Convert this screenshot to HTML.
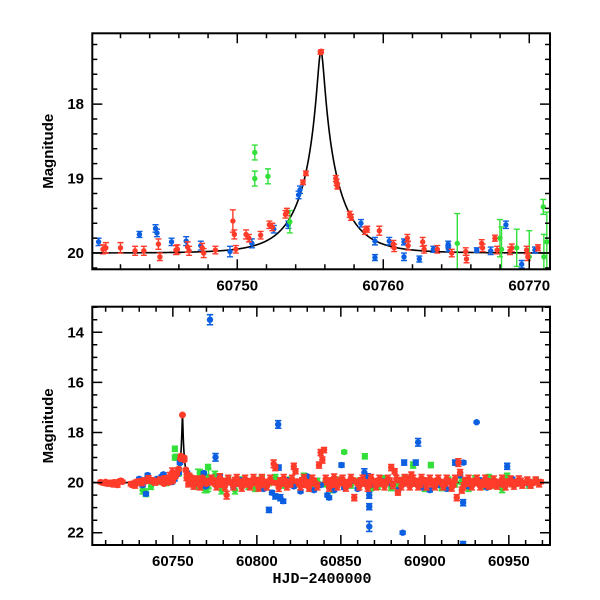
<!DOCTYPE html>
<html><head><meta charset="utf-8"><style>
html,body{margin:0;padding:0;background:#fff;}
svg{display:block;font-family:"Liberation Sans",sans-serif;}
</style></head><body>
<svg id="chart" width="600" height="600" viewBox="0 0 600 600" xmlns="http://www.w3.org/2000/svg">
<defs>
<clipPath id="clipTop"><rect x="92.3" y="33.3" width="457.7" height="236"/></clipPath>
<clipPath id="clipBot"><rect x="92.3" y="306.7" width="457.7" height="238.3"/></clipPath>
</defs>
<g id="top"></g>
<g id="bot"></g>
</svg>
<script>
// ---- data: [HJD-2400000, magnitude, error] ----
const topBlue = [[60740.5,19.85,0.05],[60743.3,19.75,0.04],[60744.4,19.67,0.05],[60744.5,19.73,0.05],[60745.5,19.85,0.05],[60746.5,19.84,0.06],[60747.5,19.9,0.06],[60749.5,19.98,0.07],[60751.0,19.87,0.06],[60752.5,19.68,0.05],[60753.5,19.62,0.05],[60754.2,19.22,0.05],[60754.3,19.15,0.05],[60758.47,19.6,0.05],[60759.43,19.84,0.05],[60759.43,20.06,0.04],[60760.41,19.84,0.05],[60761.42,19.85,0.04],[60761.42,20.05,0.05],[60762.47,20.08,0.04],[60763.43,19.95,0.04],[60764.45,19.88,0.04],[60764.45,19.94,0.04],[60766.4,19.96,0.03],[60767.36,19.97,0.05],[60768.4,19.62,0.05],[60769.48,20.15,0.05],[60770.39,19.96,0.04]];
const topRed = [[60740.8,19.95,0.06],[60741.0,19.93,0.07],[60742.0,19.93,0.07],[60743.0,19.97,0.06],[60743.6,19.97,0.06],[60744.6,19.88,0.07],[60744.7,20.05,0.05],[60745.8,19.96,0.06],[60745.9,19.95,0.06],[60746.6,19.92,0.07],[60746.7,19.97,0.06],[60747.6,19.93,0.06],[60747.7,20.0,0.06],[60748.5,19.96,0.05],[60749.7,19.57,0.15],[60749.8,19.75,0.06],[60749.9,19.95,0.05],[60750.6,19.75,0.06],[60750.8,19.8,0.05],[60751.6,19.76,0.05],[60752.2,19.62,0.05],[60752.4,19.65,0.05],[60753.3,19.48,0.05],[60753.4,19.45,0.05],[60754.5,19.05,0.03],[60754.7,18.93,0.03],[60755.7,17.31,0.02],[60755.75,17.29,0.02],[60756.75,19.0,0.04],[60756.8,19.05,0.04],[60756.85,19.1,0.04],[60757.7,19.48,0.04],[60757.8,19.52,0.04],[60758.75,19.7,0.05],[60758.9,19.68,0.04],[60759.73,19.7,0.06],[60760.69,19.88,0.05],[60760.75,19.93,0.05],[60761.65,19.8,0.05],[60761.7,19.9,0.06],[60762.7,19.85,0.06],[60762.8,19.95,0.05],[60763.7,19.95,0.05],[60764.69,20.0,0.05],[60765.65,19.98,0.05],[60765.7,20.08,0.05],[60766.74,19.87,0.05],[60766.8,19.93,0.05],[60767.65,19.8,0.04],[60767.8,19.96,0.05],[60768.68,19.97,0.05],[60768.8,19.93,0.05],[60769.82,19.96,0.05],[60769.9,20.05,0.05],[60770.6,19.93,0.04]];
const topGreen = [[60751.2,18.65,0.1],[60751.2,19.0,0.1],[60752.1,18.97,0.1],[60753.6,19.58,0.15],[60765.07,19.87,0.4],[60767.99,19.8,0.25],[60768.1,19.95,0.3],[60769.14,19.93,0.25],[60770.0,20.05,0.35],[60770.96,19.38,0.1],[60771.0,20.05,0.3],[60771.2,19.85,0.4]];
const botRed = [[60707,19.98,0.06],[60708,20.0,0.06],[60709,20.02,0.07],[60710,19.97,0.06],[60711,20.05,0.07],[60712,20.03,0.06],[60713,20.0,0.06],[60714,20.08,0.07],[60715,19.98,0.06],[60716,20.02,0.06],[60717,20.1,0.08],[60718,19.95,0.06],[60719,19.92,0.06],[60720,19.97,0.06],[60725,20.05,0.08],[60726,20.1,0.08],[60727,20.02,0.07],[60728,19.98,0.07],[60729,19.95,0.07],[60730,20.0,0.08],[60731,19.93,0.07],[60732,19.97,0.07],[60733,19.9,0.07],[60734,19.95,0.07],[60735,19.92,0.07],[60736,19.88,0.07],[60737,19.95,0.07],[60738,19.9,0.07],[60739,19.93,0.07],
[60772,20.0,0.08],[60774,19.9,0.08],[60775,20.05,0.08],[60777,19.95,0.08],[60779,20.1,0.09],[60780,19.92,0.08],[60782,20.5,0.15],[60784,19.98,0.08],[60785,20.02,0.08],[60787,19.9,0.1],[60789,20.05,0.08],[60790,19.95,0.08],[60792,20.0,0.08],[60794,20.08,0.09],[60795,19.93,0.08],[60797,19.98,0.08],[60799,20.03,0.08],[60800,19.9,0.1],[60802,20.05,0.08],[60804,19.97,0.08],[60805,20.1,0.1],[60807,19.95,0.08],[60809,20.0,0.08],[60810,19.25,0.15],[60811,19.4,0.12],[60812,20.02,0.09],[60814,19.9,0.09],[60815,20.05,0.08],[60817,19.95,0.09],[60819,20.0,0.08],[60820,20.08,0.09],[60822,19.35,0.12],[60823,19.55,0.1],[60824,19.95,0.08],[60825,20.05,0.08],[60827,19.9,0.09],[60829,20.1,0.09],[60830,19.97,0.08],[60832,20.02,0.08],[60834,19.92,0.09],[60835,20.05,0.09],[60837,19.3,0.12],[60838,18.8,0.12],[60839,19.1,0.12],[60840,18.7,0.1],[60842,20.0,0.09],[60844,19.9,0.08],[60845,20.1,0.08],[60847,19.95,0.08],[60849,20.02,0.08],[60850,19.88,0.09],[60852,20.05,0.08],[60854,19.97,0.08],[60855,20.08,0.09],[60857,19.9,0.08],[60858,20.6,0.12],[60859,19.95,0.08],[60860,20.03,0.08],[60862,19.9,0.09],[60864,20.05,0.08],[60865,19.98,0.08],[60867,20.1,0.09],[60869,19.95,0.08],[60870,20.0,0.08],[60872,19.92,0.08],[60874,20.05,0.08],[60875,19.97,0.08],[60877,20.02,0.08],[60879,19.9,0.08],[60880,19.4,0.12],[60882,19.55,0.1],[60884,20.4,0.1],[60885,19.9,0.1],[60887,20.05,0.09],[60889,19.85,0.1],[60890,20.0,0.1],[60892,19.7,0.12],[60894,20.05,0.09],[60895,19.93,0.09],[60897,20.1,0.09],[60899,19.97,0.08],[60900,19.9,0.08],[60902,20.02,0.08],[60904,19.95,0.08],[60905,20.08,0.09],[60907,19.92,0.08],[60909,20.0,0.08],[60910,19.97,0.08],[60912,20.05,0.08],[60914,19.93,0.08],[60915,20.0,0.08],[60917,20.1,0.08],[60919,20.6,0.12],[60920,19.2,0.15],[60921,19.6,0.12],[60922,20.3,0.12],[60924,19.9,0.1],[60925,20.05,0.09],[60927,19.95,0.09],[60929,20.02,0.08],[60930,19.92,0.08],[60932,20.05,0.08],[60934,19.97,0.08],[60935,20.1,0.08],[60937,19.93,0.08],[60939,20.0,0.08],[60940,20.12,0.08],[60942,19.95,0.08],[60944,20.05,0.08],[60945,19.98,0.08],[60947,20.1,0.08],[60949,19.95,0.08],[60950,20.02,0.08],[60952,20.08,0.08],[60954,19.97,0.08],[60955,20.05,0.08],[60957,19.93,0.1],[60959,20.02,0.08],[60960,20.0,0.08],[60962,19.95,0.07],[60964,20.03,0.07],[60965,19.98,0.07],[60967,20.0,0.07],[60969,19.97,0.07]];
const botRed2 = [[60727.5,20.1,0.12],[60731.5,20.0,0.12],[60735.5,19.85,0.12],[60739.5,19.98,0.12],[60742.5,19.9,0.12],[60745.2,19.85,0.12],[60748.2,19.75,0.15],[60758.2,19.8,0.12],[60759.2,20.05,0.12],[60760.6,19.9,0.12],[60762.3,20.12,0.14],[60764.1,19.86,0.12],[60766.2,20.15,0.14],[60773,19.85,0.14],[60776,20.15,0.14],[60778,19.8,0.15],[60781,20.15,0.14],[60783,19.85,0.14],[60786,20.15,0.14],[60788,19.82,0.14],[60791,20.2,0.14],[60793,19.85,0.14],[60796,20.15,0.14],[60798,19.82,0.14],[60801,20.2,0.14],[60803,19.82,0.14],[60806,20.15,0.14],[60808,19.85,0.14],[60813,20.2,0.15],[60816,19.82,0.14],[60818,20.15,0.14],[60821,19.85,0.14],[60826,20.15,0.14],[60828,19.82,0.14],[60831,20.2,0.14],[60833,19.85,0.14],[60836,20.15,0.14],[60841,19.85,0.14],[60843,20.2,0.14],[60846,19.8,0.14],[60848,20.15,0.14],[60851,19.85,0.14],[60853,20.2,0.14],[60856,19.82,0.14],[60861,20.15,0.14],[60863,19.85,0.14],[60866,20.2,0.14],[60868,19.82,0.14],[60871,20.15,0.14],[60873,19.85,0.14],[60876,20.15,0.14],[60878,19.85,0.14],[60881,20.1,0.14],[60883,19.85,0.14],[60886,20.15,0.14],[60888,19.82,0.14],[60891,20.15,0.14],[60893,19.85,0.14],[60896,20.15,0.14],[60898,19.82,0.14],[60901,20.15,0.14],[60903,19.85,0.14],[60906,20.15,0.14],[60908,19.85,0.14],[60911,20.15,0.14],[60913,19.85,0.14],[60916,20.2,0.14],[60918,19.85,0.14],[60923,20.15,0.14],[60926,19.85,0.14],[60928,20.15,0.14],[60931,19.85,0.14],[60933,20.15,0.14],[60936,19.85,0.14],[60938,20.12,0.14],[60941,19.88,0.14],[60943,20.12,0.14],[60946,19.85,0.14],[60948,20.15,0.14],[60951,19.88,0.14],[60953,20.12,0.14],[60956,19.88,0.14],[60958,20.1,0.12],[60961,19.9,0.12],[60963,20.1,0.12],[60966,19.9,0.12],[60968,20.05,0.12]];
const botBlue = [[60730,19.85,0.06],[60732,20.1,0.07],[60734,20.45,0.07],[60735,19.7,0.06],[60737,19.95,0.06],[60739,19.9,0.06],[60772.1,13.5,0.2],[60775.4,18.99,0.15],[60770,20.1,0.06],[60778,19.75,0.06],[60782,20.0,0.06],[60786,20.15,0.06],[60790,19.9,0.06],[60795,20.05,0.06],[60800,19.95,0.06],[60804,20.25,0.06],[60807.2,21.09,0.1],[60809,20.4,0.08],[60811,20.55,0.1],[60812.7,17.68,0.15],[60813,19.4,0.1],[60815.7,20.74,0.08],[60814,20.6,0.12],[60818,19.9,0.06],[60822,20.15,0.06],[60826,20.35,0.06],[60830,19.75,0.06],[60834,20.3,0.06],[60838,20.1,0.06],[60842,20.5,0.07],[60843,20.6,0.07],[60846,20.3,0.06],[60850.4,19.3,0.08],[60852,20.2,0.06],[60856,19.95,0.06],[60860,20.25,0.06],[60864,19.6,0.15],[60866,19.8,0.15],[60866.9,20.5,0.12],[60866.9,20.96,0.12],[60866.9,21.75,0.2],[60870,20.1,0.06],[60875,19.95,0.06],[60880,20.05,0.06],[60884,20.3,0.06],[60886.8,22.0,0.06],[60887.7,19.2,0.1],[60889,19.85,0.08],[60891,20.1,0.06],[60894.6,19.2,0.1],[60896,18.39,0.15],[60899,20.2,0.06],[60903,20.3,0.07],[60908,20.1,0.06],[60913,20.25,0.06],[60918,19.2,0.1],[60921,19.7,0.1],[60922.8,20.8,0.12],[60922.8,22.45,0.1],[60923,19.2,0.06],[60926,20.15,0.06],[60930.8,17.59,0.03],[60933,19.9,0.06],[60937,20.2,0.06],[60941,19.95,0.06],[60945,20.05,0.06],[60949,19.35,0.12],[60952,19.85,0.06],[60957,20.0,0.06],[60962,20.05,0.06],[60967,19.95,0.06]];
const botGreen = [[60732,20.3,0.15],[60734,20.4,0.15],[60737,20.15,0.12],[60741,19.95,0.12],[60746,20.0,0.12],[60760,19.95,0.12],[60763,20.1,0.12],[60766,19.6,0.12],[60769,20.25,0.15],[60771,20.05,0.15],[60775,19.7,0.15],[60777,19.9,0.15],[60779,20.3,0.15],[60783,19.85,0.12],[60787,20.3,0.15],[60791,19.9,0.12],[60795,20.15,0.12],[60799,20.2,0.15],[60803,19.85,0.12],[60807,20.0,0.12],[60811,19.8,0.12],[60816,20.1,0.12],[60820,19.9,0.12],[60824,20.05,0.12],[60828,19.75,0.12],[60832,20.2,0.15],[60836,19.95,0.12],[60841,20.05,0.12],[60845,20.25,0.15],[60849,19.9,0.12],[60852,18.78,0.06],[60856,20.1,0.12],[60860,19.95,0.12],[60864.3,18.95,0.1],[60868,20.2,0.12],[60872,20.15,0.12],[60876,19.85,0.12],[60880,20.2,0.12],[60884,20.1,0.12],[60888,19.85,0.12],[60893,19.3,0.12],[60897,20.1,0.12],[60900,20.2,0.15],[60903.6,19.3,0.1],[60906,20.05,0.12],[60910,20.2,0.12],[60914,19.9,0.12],[60918,20.05,0.12],[60922,19.95,0.12],[60926,20.2,0.15],[60930,19.85,0.12],[60934,20.15,0.12],[60938,19.8,0.12],[60942,20.1,0.12],[60946,20.25,0.15],[60949,19.75,0.12],[60953,20.05,0.12],[60957,19.95,0.12],[60962,20.1,0.12],[60966,19.95,0.12]];
const topXTicks = [60750,60760,60770];
const topYTicks = [18,19,20];
const botXTicks = [60750,60800,60850,60900,60950];
const botYTicks = [14,16,18,20,22];

const NS='http://www.w3.org/2000/svg';
const svg=document.getElementById('chart');
const model={t0:60755.73,u0:0.083,tE:2.7,base:20};
function modelMag(t){const u=Math.sqrt(model.u0*model.u0+Math.pow((t-model.t0)/model.tE,2));const A=(u*u+2)/(u*Math.sqrt(u*u+4));return model.base-2.5*Math.log10(A);}
const COL={red:'#ff3b2a',blue:'#0b5fe0',green:'#33e03a'};

function el(tag,attrs,parent){const e=document.createElementNS(NS,tag);for(const k in attrs)e.setAttribute(k,attrs[k]);parent.appendChild(e);return e;}

function panel(g,P){
  const sx=t=>P.x0+(t-P.t0)/(P.t1-P.t0)*(P.x1-P.x0);
  const sy=m=>P.y0+(m-P.m0)/(P.m1-P.m0)*(P.y1-P.y0);
  const data=el('g',{'clip-path':'url(#'+P.clip+')'},g);
  let d='';
  for(let i=0;i<=1500;i++){const t=P.t0+(P.t1-P.t0)*i/1500;d+=(i?'L':'M')+sx(t).toFixed(2)+','+sy(modelMag(t)).toFixed(2);}
  const ml=el('path',{d:d,fill:'none',stroke:'#000','stroke-width':1.6},data);
  
  
  for(const s of P.series){
    const sg=el('g',{},data);
    
    
    for(const p of s.pts){
      const x=sx(p[0]),yt=sy(p[1]-p[2]),yb=sy(p[1]+p[2]),y=sy(p[1]);
      el('path',{d:`M${x},${yt}V${yb}M${x-P.cap},${yt}H${x+P.cap}M${x-P.cap},${yb}H${x+P.cap}`,stroke:s.color,'stroke-width':P.sw,fill:'none'},sg);
      const c=el('circle',{cx:x,cy:y,r:P.r,fill:s.color},sg);
      
      
    }
  }
  const fr=el('rect',{x:P.x0,y:P.y0,width:P.x1-P.x0,height:P.y1-P.y0,fill:'none',stroke:'#000','stroke-width':2},g);
  
  
  let td='';
  for(let t=Math.ceil(P.t0/P.xm)*P.xm;t<=P.t1;t+=P.xm){const x=sx(t);const L=(Math.abs(t/P.xM-Math.round(t/P.xM))<1e-6)?10:5;td+=`M${x},${P.y1}v${-L}M${x},${P.y0}v${L}`;}
  for(let k=Math.ceil(P.m0/P.ym);k*P.ym<=P.m1+1e-9;k++){const m=k*P.ym;const y=sy(m);const L=(Math.abs(m/P.yM-Math.round(m/P.yM))<1e-6)?10:5;td+=`M${P.x0},${y}h${L}M${P.x1},${y}h${-L}`;}
  const tk=el('path',{d:td,stroke:'#000','stroke-width':1.5,fill:'none'},g);
  
  
  for(const t of P.xt){const tx=el('text',{x:sx(t),y:P.y1+21,'text-anchor':'middle','font-size':15,'font-weight':'bold'},g);tx.textContent=t;
    
    }
  for(const m of P.yt){const tx=el('text',{x:84,y:sy(m)+5,'text-anchor':'end','font-size':15,'font-weight':'bold'},g);tx.textContent=m;
    
    }
  const yl=el('text',{x:0,y:0,transform:`translate(53,${(P.y0+P.y1)/2}) rotate(-90)`,'text-anchor':'middle','font-size':15,'font-weight':'bold'},g);
  yl.textContent='Magnitude';
  
  
}

panel(document.getElementById('top'),{x0:92.3,x1:550,y0:33.3,y1:269.3,t0:60740.07,t1:60771.42,m0:17.05,m1:20.218,clip:'clipTop',r:2.7,cap:3,sw:1.4,xm:2,xM:10,ym:0.2,yM:1,xt:topXTicks,yt:topYTicks,
  series:[{name:'blue-series',color:COL.blue,pts:topBlue},{name:'green-series',color:COL.green,pts:topGreen},{name:'red-series',color:COL.red,pts:topRed}]});
panel(document.getElementById('bot'),{x0:92.3,x1:550,y0:306.7,y1:545,t0:60702.05,t1:60974.5,m0:12.98,m1:22.49,clip:'clipBot',r:3.2,cap:3.2,sw:1.6,xm:10,xM:50,ym:0.5,yM:2,xt:botXTicks,yt:botYTicks,
  series:[{name:'green-series',color:COL.green,pts:topGreen.concat(botGreen)},{name:'blue-series',color:COL.blue,pts:topBlue.concat(botBlue)},{name:'red-series',color:COL.red,pts:topRed.concat(botRed,botRed2)}]});
const xl=el('text',{x:322,y:583,'text-anchor':'middle','font-size':15,'font-weight':'bold','font-family':'Liberation Mono, monospace'},svg);
xl.textContent='HJD−2400000';


</script>
</body></html>
